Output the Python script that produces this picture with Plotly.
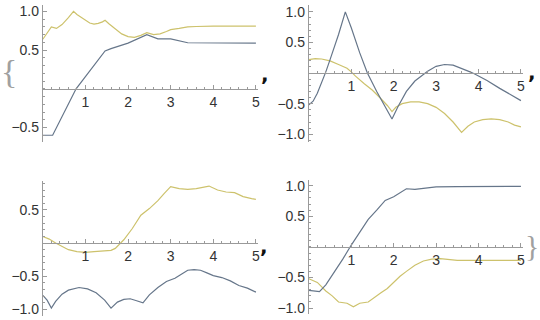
import plotly.graph_objects as go

# ---------------- data ----------------
p1_gold_x = [0, 0.1, 0.2, 0.32, 0.45, 0.6, 0.72, 0.8, 0.9, 1.0, 1.1, 1.2, 1.3, 1.4, 1.46, 1.55, 1.7, 1.85, 2.0, 2.15, 2.3, 2.44, 2.6, 2.75, 2.9, 3.0, 3.2, 3.4, 3.6, 4.0, 5.0]
p1_gold_y = [0.64, 0.72, 0.80, 0.78, 0.83, 0.92, 1.0, 0.96, 0.92, 0.88, 0.85, 0.835, 0.845, 0.865, 0.885, 0.84, 0.77, 0.71, 0.675, 0.665, 0.69, 0.725, 0.70, 0.71, 0.74, 0.765, 0.78, 0.80, 0.805, 0.81, 0.81]
p1_blue_x = [0, 0.23, 0.78, 1.46, 1.6, 2.0, 2.44, 2.7, 3.0, 3.2, 3.4, 5.0]
p1_blue_y = [-0.6, -0.6, 0.0, 0.49, 0.52, 0.59, 0.70, 0.645, 0.645, 0.62, 0.595, 0.59]

p2_blue_x = [0, 0.1, 0.2, 0.3, 0.4, 0.5, 0.6, 0.7, 0.86, 1.0, 1.2, 1.38, 1.6, 1.8, 1.96, 2.1, 2.3, 2.5, 2.7, 2.8, 3.0, 3.2, 3.4, 3.6, 3.8, 3.9, 4.2, 4.5, 4.8, 5.0]
p2_blue_y = [-0.52, -0.46, -0.33, -0.17, 0.02, 0.22, 0.42, 0.63, 1.0, 0.74, 0.33, 0.0, -0.3, -0.55, -0.75, -0.55, -0.3, -0.13, -0.02, 0.03, 0.11, 0.14, 0.13, 0.08, 0.02, -0.01, -0.12, -0.25, -0.37, -0.45]
p2_gold_x = [0, 0.15, 0.3, 0.5, 0.7, 0.9, 1.0, 1.1, 1.3, 1.5, 1.7, 1.85, 1.96, 2.05, 2.2, 2.4, 2.6, 2.8, 3.0, 3.2, 3.4, 3.6, 3.75, 3.9, 4.1, 4.3, 4.5, 4.7, 4.85, 5.0]
p2_gold_y = [0.22, 0.235, 0.23, 0.20, 0.14, 0.08, 0.02, -0.05, -0.17, -0.28, -0.42, -0.53, -0.63, -0.56, -0.5, -0.47, -0.47, -0.5, -0.56, -0.66, -0.8, -0.97, -0.87, -0.8, -0.76, -0.75, -0.76, -0.8, -0.85, -0.88]

p3_gold_x = [0, 0.15, 0.3, 0.45, 0.6, 0.8, 1.0, 1.2, 1.4, 1.6, 1.7, 1.8, 1.9, 2.1, 2.3, 2.5, 2.7, 2.85, 3.0, 3.2, 3.4, 3.6, 3.8, 3.9, 4.1, 4.3, 4.5, 4.7, 4.9, 5.0]
p3_gold_y = [0.1, 0.06, 0.0, -0.05, -0.1, -0.13, -0.14, -0.13, -0.12, -0.11, -0.08, -0.02, 0.05, 0.22, 0.42, 0.52, 0.64, 0.75, 0.85, 0.82, 0.81, 0.82, 0.84, 0.86, 0.8, 0.77, 0.76, 0.7, 0.67, 0.66]
p3_blue_x = [0, 0.1, 0.2, 0.3, 0.45, 0.6, 0.85, 1.05, 1.25, 1.45, 1.6, 1.75, 1.9, 2.05, 2.2, 2.35, 2.5, 2.7, 2.9, 3.1, 3.25, 3.4, 3.55, 3.7, 3.85, 4.0, 4.2, 4.4, 4.6, 4.8, 5.0]
p3_blue_y = [-0.79, -0.86, -0.98, -0.88, -0.77, -0.71, -0.67, -0.69, -0.75, -0.86, -0.98, -0.89, -0.85, -0.84, -0.87, -0.9, -0.78, -0.67, -0.58, -0.53, -0.47, -0.41, -0.40, -0.41, -0.45, -0.49, -0.52, -0.57, -0.64, -0.68, -0.74]

p4_blue_x = [0, 0.25, 0.4, 0.6, 0.8, 1.0, 1.2, 1.4, 1.6, 1.8, 2.0, 2.15, 2.3, 2.5, 2.7, 3.0, 3.5, 4.0, 5.0]
p4_blue_y = [-0.71, -0.73, -0.62, -0.42, -0.2, 0.03, 0.25, 0.45, 0.6, 0.76, 0.82, 0.88, 0.95, 0.94, 0.96, 0.98, 0.985, 0.99, 0.99]
p4_gold_x = [0, 0.2, 0.4, 0.55, 0.7, 0.9, 1.05, 1.2, 1.4, 1.55, 1.7, 1.85, 2.0, 2.15, 2.3, 2.5, 2.7, 2.9, 3.1, 3.3, 3.5, 4.0, 5.0]
p4_gold_y = [-0.52, -0.58, -0.72, -0.8, -0.9, -0.92, -0.98, -0.92, -0.9, -0.82, -0.75, -0.68, -0.58, -0.48, -0.4, -0.3, -0.23, -0.2, -0.19, -0.2, -0.22, -0.22, -0.22]

x_ticks = [1, 2, 3, 4, 5]
x_labels = ["1", "2", "3", "4", "5"]
y_ticks_1 = [-0.5, 0.5, 1.0]
y_labels_1 = ["\u22120.5", "0.5", "1.0"]
y_ticks_2 = [-1.0, -0.5, 0.5, 1.0]
y_labels_2 = ["\u22121.0", "\u22120.5", "0.5", "1.0"]
y_ticks_3 = [-1.0, -0.5, 0.5]
y_labels_3 = ["\u22121.0", "\u22120.5", "0.5"]

# ---------------- styling / layout ----------------
W, H = 540, 320
GOLD = "#CDC26C"
BLUE = "#66768A"
AX = "#9a9a9a"
FONT = dict(family="Liberation Sans, Arial, sans-serif", size=14, color="#333333")

panels = [
    dict(xl=43, xr=259, yt=3.5, yb=142, yr=[-0.69, 1.077], yt_v=y_ticks_1, yt_t=y_labels_1,
         series=[(p1_gold_x, p1_gold_y, GOLD), (p1_blue_x, p1_blue_y, BLUE)]),
    dict(xl=310, xr=525, yt=3.5, yb=142, yr=[-1.13, 1.105], yt_v=y_ticks_2, yt_t=y_labels_2,
         series=[(p2_gold_x, p2_gold_y, GOLD), (p2_blue_x, p2_blue_y, BLUE)]),
    dict(xl=43, xr=259, yt=181, yb=318, yr=[-1.10, 0.94], yt_v=y_ticks_3, yt_t=y_labels_3,
         series=[(p3_gold_x, p3_gold_y, GOLD), (p3_blue_x, p3_blue_y, BLUE)]),
    dict(xl=310, xr=525, yt=180, yb=316, yr=[-1.097, 1.097], yt_v=y_ticks_2, yt_t=y_labels_2,
         series=[(p4_gold_x, p4_gold_y, GOLD), (p4_blue_x, p4_blue_y, BLUE)]),
]

fig = go.Figure()
layout = dict(width=W, height=H, margin=dict(l=0, r=0, t=0, b=0),
              paper_bgcolor="white", plot_bgcolor="white", showlegend=False)

for i, p in enumerate(panels, start=1):
    xn = "x" if i == 1 else f"x{i}"
    yn = "y" if i == 1 else f"y{i}"
    xk = "xaxis" if i == 1 else f"xaxis{i}"
    yk = "yaxis" if i == 1 else f"yaxis{i}"
    for sx, sy, col in p["series"]:
        fig.add_trace(go.Scatter(x=sx, y=sy, mode="lines", line=dict(color=col, width=1.2),
                                 xaxis=xn, yaxis=yn, hoverinfo="skip"))
    ydom = [1 - p["yb"] / H, 1 - p["yt"] / H]
    y0, y1 = p["yr"]
    zero_pos = ydom[0] + (0 - y0) / (y1 - y0) * (ydom[1] - ydom[0])
    layout[xk] = dict(domain=[p["xl"] / W, p["xr"] / W], range=[0, 5.05], anchor="free",
                      position=zero_pos, showgrid=False, zeroline=False, showline=True,
                      linecolor=AX, linewidth=1, ticks="inside", ticklen=4, tickcolor=AX,
                      tickmode="array", tickvals=x_ticks, ticktext=x_labels, tickfont=FONT,
                      minor=dict(ticks="inside", ticklen=2, tickcolor=AX, tick0=0, dtick=0.2,
                                 showgrid=False),
                      fixedrange=True)
    layout[yk] = dict(domain=ydom, range=p["yr"], anchor=xn, showgrid=False, zeroline=False,
                      showline=True, linecolor=AX, linewidth=1, ticks="inside", ticklen=4,
                      tickcolor=AX, tickmode="array", tickvals=p["yt_v"], ticktext=p["yt_t"],
                      tickfont=FONT,
                      minor=dict(ticks="inside", ticklen=2, tickcolor=AX, tick0=0, dtick=0.1,
                                 showgrid=False),
                      fixedrange=True)

fig.update_layout(**layout)

# Mathematica list decorations
deco = [("{", 9, 70, 34, "#a0a0a0", "Liberation Serif, serif", False),
        (",", 266, 73, 20, "#111111", "DejaVu Sans, sans-serif", True),
        (",", 534, 71, 20, "#111111", "DejaVu Sans, sans-serif", True),
        (",", 265, 247, 20, "#111111", "DejaVu Sans, sans-serif", True),
        ("}", 533.5, 247, 30, "#a0a0a0", "Liberation Serif, serif", False)]
for txt, px, py, sz, col, fam, bold in deco:
    fig.add_annotation(text=f"<b>{txt}</b>" if bold else txt, x=px / W, y=1 - py / H,
                       xref="paper", yref="paper", showarrow=False,
                       xanchor="center", yanchor="middle", borderpad=0,
                       font=dict(family=fam, size=sz, color=col))

fig.write_html("out.html")
